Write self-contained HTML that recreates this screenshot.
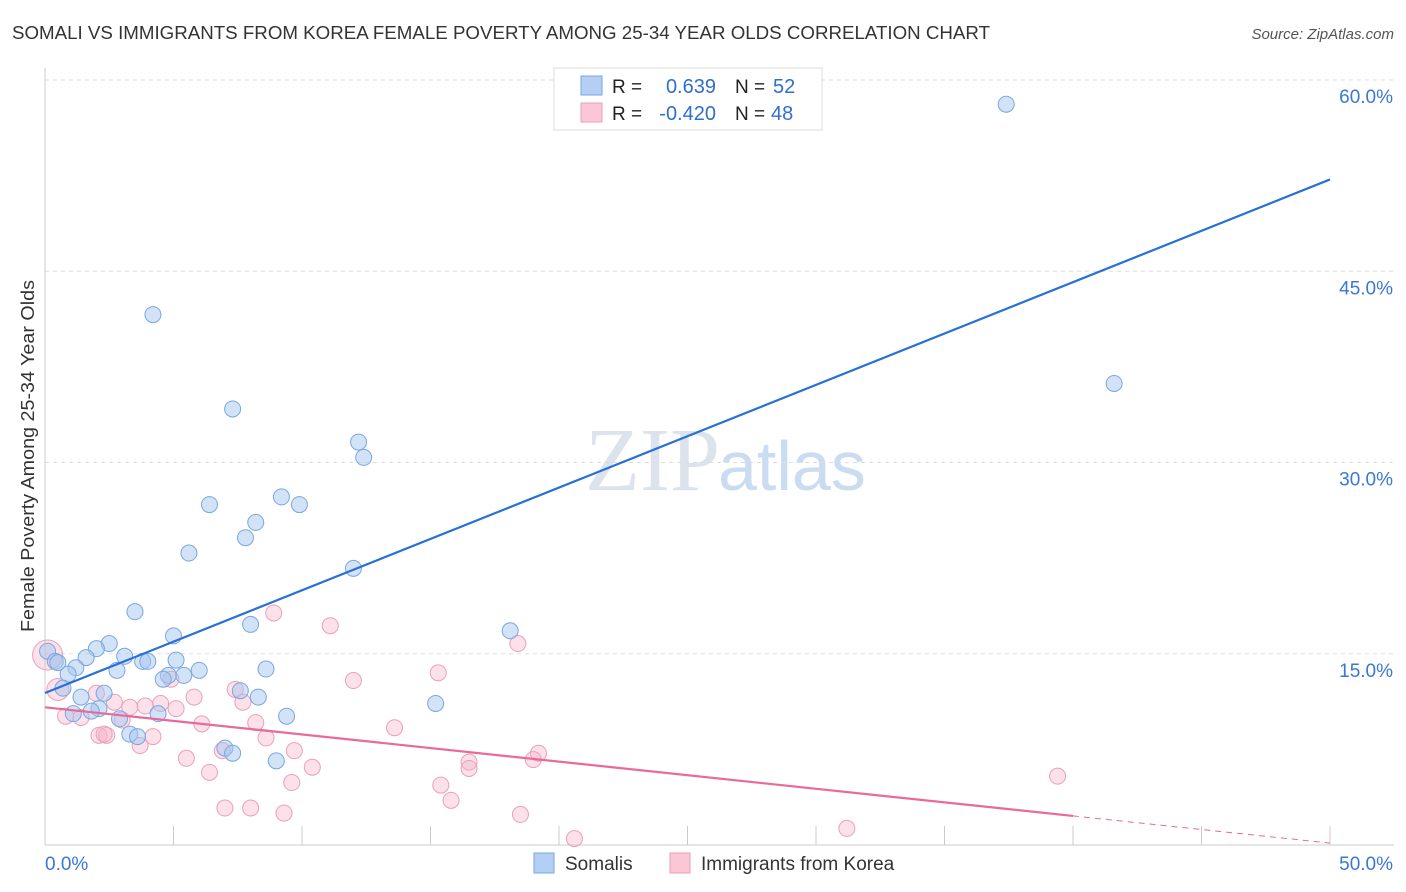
<!DOCTYPE html>
<html><head><meta charset="utf-8"><style>
body{margin:0;background:#fff;font-family:"Liberation Sans",sans-serif;}
svg{display:block}
</style></head><body>
<svg id="chart" width="1406" height="892" xmlns="http://www.w3.org/2000/svg">
<text x="12" y="39" font-size="18" fill="#333" textLength="978" lengthAdjust="spacingAndGlyphs">SOMALI VS IMMIGRANTS FROM KOREA FEMALE POVERTY AMONG 25-34 YEAR OLDS CORRELATION CHART</text>
<text x="1394" y="39" font-size="15" fill="#555" font-style="italic" text-anchor="end">Source: ZipAtlas.com</text>
<text x="720" y="490" font-size="90" fill="#dde3ec" text-anchor="end" font-family="Liberation Serif,serif">ZIP</text>
<text x="718" y="490" font-size="70" fill="#c9dcf2">atlas</text>
<g id="grid"></g><g id="axes"></g><g id="pts"></g><g id="lines"></g>
<text transform="translate(34,456) rotate(-90)" font-size="18" fill="#333" text-anchor="middle" textLength="352" lengthAdjust="spacingAndGlyphs">Female Poverty Among 25-34 Year Olds</text>
<g>
<rect x="554" y="68" width="268" height="62" fill="#fff" stroke="#ddd"/>
<rect x="581" y="76" width="21" height="19" fill="#b3cff5" stroke="#7aa7e0"/>
<rect x="581" y="103" width="21" height="19" fill="#fbc6d6" stroke="#eaa0b9"/>
<text x="612" y="93" font-size="19" fill="#222">R =</text><text x="716" y="93" font-size="20" fill="#2f6fd0" text-anchor="end">0.639</text>
<text x="735" y="93" font-size="19" fill="#222">N =</text><text x="773" y="93" font-size="20" fill="#2f6fd0">52</text>
<text x="612" y="120" font-size="19" fill="#222">R =</text><text x="716" y="120" font-size="20" fill="#2f6fd0" text-anchor="end">-0.420</text>
<text x="735" y="120" font-size="19" fill="#222">N =</text><text x="771" y="120" font-size="20" fill="#2f6fd0">48</text>
</g>
<g>
<rect x="534" y="853" width="20" height="20" fill="#b3cff5" stroke="#7aa7e0"/>
<text x="565" y="870" font-size="19" fill="#333">Somalis</text>
<rect x="670" y="853" width="20" height="20" fill="#fbc6d6" stroke="#eaa0b9"/>
<text x="701" y="870" font-size="19" fill="#333">Immigrants from Korea</text>
</g>
</svg>
<script>
const blueX=[37.4,41.6,4.2,7.3,12.2,12.4,6.4,9.2,9.9,8.2,7.8,5.6,12.0,3.5,8.0,18.1,5.0,2.5,2.0,3.1,1.6,0.1,0.4,0.5,3.8,4.0,5.1,1.2,2.8,6.0,8.6,0.9,4.8,5.4,4.6,0.7,7.6,8.3,2.3,1.4,15.2,2.1,1.8,1.1,4.4,9.4,2.9,3.3,3.6,7.0,7.3,9.0];
const blueY=[58.1,36.2,41.6,34.2,31.6,30.4,26.7,27.3,26.7,25.3,24.1,22.9,21.7,18.3,17.3,16.8,16.4,15.8,15.4,14.8,14.7,15.2,14.4,14.3,14.4,14.4,14.5,13.9,13.7,13.7,13.8,13.4,13.3,13.3,13.0,12.3,12.1,11.6,11.9,11.6,11.1,10.7,10.5,10.3,10.3,10.1,9.9,8.7,8.5,7.6,7.2,6.6];
const pinkX=[0.1,0.5,8.9,11.1,18.4,15.3,12.0,4.9,2.0,7.4,5.8,2.7,4.5,7.7,3.9,3.3,5.1,0.8,1.4,3.0,6.1,8.2,13.6,2.1,2.4,4.2,8.6,3.7,6.9,9.7,19.2,5.5,19.0,16.5,10.4,16.5,6.4,39.4,9.6,15.4,15.8,7.0,8.0,9.3,18.5,31.2,20.6,2.3];
const pinkY=[14.9,12.2,18.2,17.2,15.8,13.5,12.9,13.0,11.9,12.2,11.6,11.2,11.1,11.2,10.9,10.8,10.7,10.1,10.0,9.8,9.5,9.6,9.2,8.6,8.6,8.5,8.4,7.8,7.4,7.4,7.2,6.8,6.7,6.5,6.1,6.0,5.7,5.4,4.9,4.7,3.5,2.9,2.9,2.5,2.4,1.3,0.5,8.7];
const blueFit=[11.92,52.2];
const pinkFit=[10.8,0.15];
const yTicks=[15,30,45,60];
const xTickLabels=["0.0%","50.0%"];
const NS="http://www.w3.org/2000/svg";
const sx=v=>45+v*25.7, sy=v=>845-v*12.75;
function mk(tag,attrs,parent){const e=document.createElementNS(NS,tag);for(const k in attrs)e.setAttribute(k,attrs[k]);parent.appendChild(e);return e;}
const grid=document.getElementById('grid'),axes=document.getElementById('axes'),pts=document.getElementById('pts'),lines=document.getElementById('lines');
yTicks.forEach(t=>{
 const l=mk('line',{x1:45,x2:1394,y1:sy(t),y2:sy(t),stroke:'#ddd','stroke-dasharray':'4,4'},grid);
 
 
 const tx=mk('text',{x:1393,y:sy(t)+23,'font-size':19,fill:'#3a78d4','text-anchor':'end'},grid);
 tx.textContent=t.toFixed(1)+'%';
 
 
});
const ax=mk('line',{x1:45,x2:45,y1:68,y2:845,stroke:'#ccc'},axes);


const bx=mk('line',{x1:45,x2:1394,y1:845,y2:845,stroke:'#ccc'},axes);


for(let i=1;i<=10;i++){
 const t=mk('line',{x1:sx(i*5),x2:sx(i*5),y1:826,y2:845,stroke:'#ccc'},axes);
 
 
}
[[0,'start',45],[1,'end',1393]].forEach(([i,a,x])=>{
 const t=mk('text',{x:x,y:870,'font-size':19,fill:'#3a78d4','text-anchor':a},axes);
 t.textContent=xTickLabels[i];
 
 
});
pinkX.forEach((x,i)=>{
 const c=mk('circle',{cx:sx(x),cy:sy(pinkY[i]),r:i==0?15:(i==1?11:8),fill:'rgba(248,180,203,0.4)',stroke:'#eaa0b9','stroke-width':1},pts);
 
 
});
blueX.forEach((x,i)=>{
 const c=mk('circle',{cx:sx(x),cy:sy(blueY[i]),r:8,fill:'rgba(165,198,240,0.5)',stroke:'#7aa7e0','stroke-width':1},pts);
 
 
});
const bl=mk('line',{x1:sx(0),y1:sy(blueFit[0]),x2:sx(50),y2:sy(blueFit[1]),stroke:'#2970d6','stroke-width':2.2},lines);


const pAt=x=>pinkFit[0]+(pinkFit[1]-pinkFit[0])*x/50;
const pl=mk('line',{x1:sx(0),y1:sy(pAt(0)),x2:sx(40),y2:sy(pAt(40)),stroke:'#e8699a','stroke-width':2.2},lines);


const pd=mk('line',{x1:sx(40),y1:sy(pAt(40)),x2:sx(50),y2:sy(pAt(50)),stroke:'#e8699a','stroke-width':1,'stroke-dasharray':'6,5'},lines);


</script>
</body></html>
